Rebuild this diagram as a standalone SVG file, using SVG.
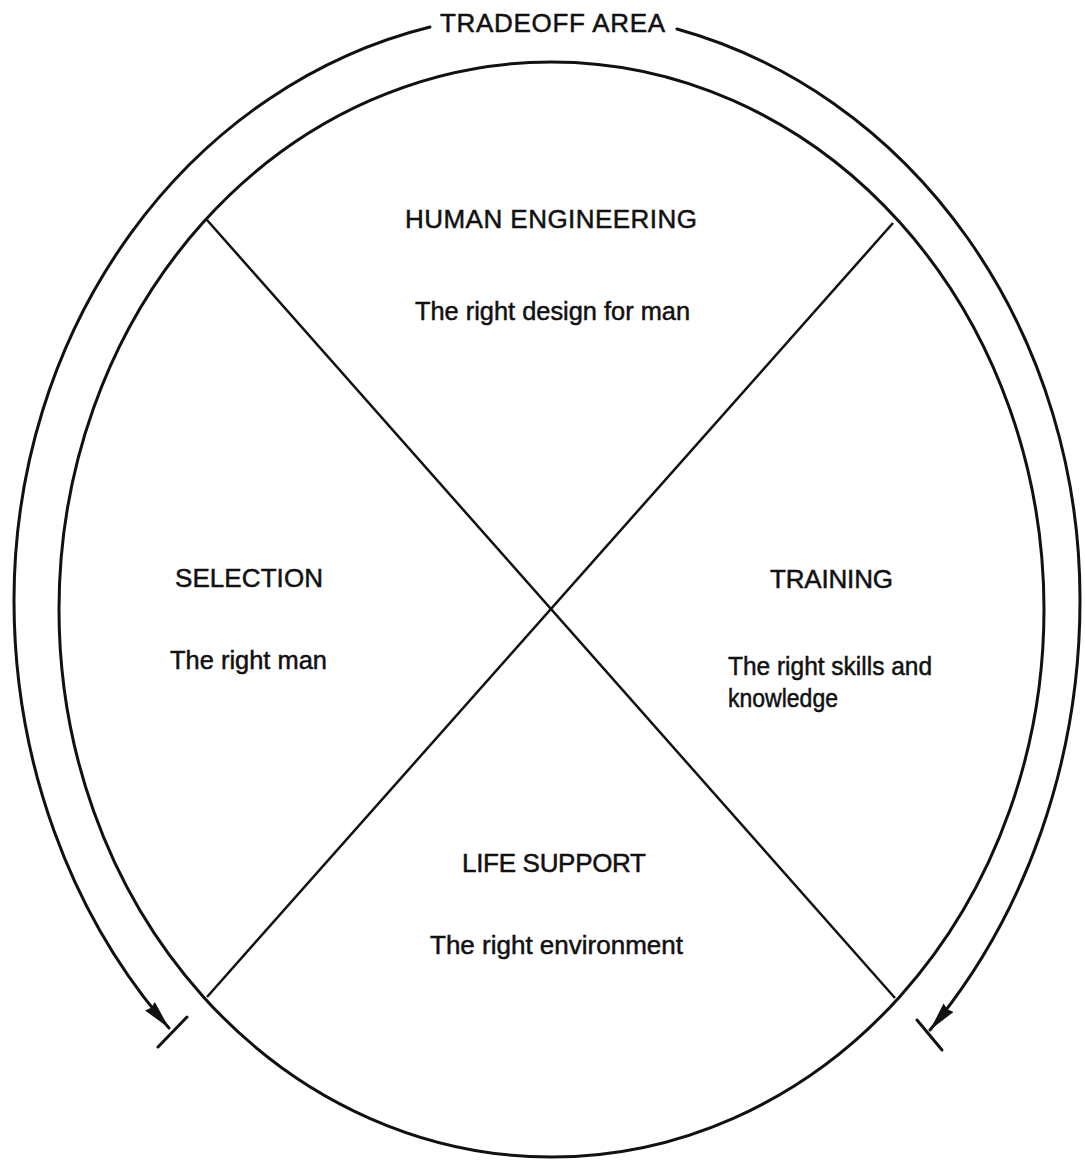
<svg xmlns="http://www.w3.org/2000/svg" width="1085" height="1160" viewBox="0 0 1085 1160">
<style>
.ln{fill:none;stroke:#111;stroke-width:3;stroke-linecap:round}
.dg{fill:none;stroke:#111;stroke-width:2.5}
.t{font-family:"Liberation Sans",Arial,sans-serif;fill:#111;stroke:#111;stroke-width:0.5;font-size:26px}
.s{font-family:"Liberation Sans",Arial,sans-serif;fill:#111;stroke:#111;stroke-width:0.5;font-size:26px}
</style>
<defs>
<marker id="arr" markerWidth="32" markerHeight="16" refX="29" refY="8" orient="auto" markerUnits="userSpaceOnUse">
<path d="M0,1.5 L29,8 L0,14.5 L2,8 z" fill="#111"/>
</marker>
</defs>
<rect width="1085" height="1160" fill="#fff"/>
<g id="frame">
<ellipse class="ln" cx="551.5" cy="609.5" rx="492.5" ry="547.5"/>
<line class="dg" x1="207" y1="220" x2="895" y2="998"/>
<line class="dg" x1="893" y1="223" x2="207" y2="997"/>
</g>
<g id="tradeoff">
<text class="t" x="440" y="32" textLength="225" lengthAdjust="spacing">TRADEOFF AREA</text>
</g>
<g id="connectors">
<path class="ln" d="M430,27 A533,588 0 0 0 14,600 A533,607 0 0 0 169,1028" marker-end="url(#arr)"/>
<path class="ln" d="M677,29 A533,588 0 0 1 1080,600 A533,618 0 0 1 930,1030" marker-end="url(#arr)"/>
<line class="ln" x1="158" y1="1047" x2="187" y2="1017"/>
<line class="ln" x1="917" y1="1020" x2="942" y2="1050"/>
</g>
<g id="human-engineering">
<text class="t" x="405" y="228" textLength="292" lengthAdjust="spacing">HUMAN ENGINEERING</text>
<text class="s" x="415" y="320" textLength="275" lengthAdjust="spacingAndGlyphs">The right design for man</text>
</g>
<g id="selection">
<text class="t" x="175" y="587" textLength="148" lengthAdjust="spacing">SELECTION</text>
<text class="s" x="170" y="669" textLength="157" lengthAdjust="spacingAndGlyphs">The right man</text>
</g>
<g id="training">
<text class="t" x="770" y="588" textLength="123" lengthAdjust="spacing">TRAINING</text>
<text class="s" x="728" y="675" textLength="204" lengthAdjust="spacingAndGlyphs">The right skills and</text>
<text class="s" x="728" y="707" textLength="110" lengthAdjust="spacingAndGlyphs">knowledge</text>
</g>
<g id="life-support">
<text class="t" x="462" y="872" textLength="184" lengthAdjust="spacing">LIFE SUPPORT</text>
<text class="s" x="430" y="954" textLength="253" lengthAdjust="spacingAndGlyphs">The right environment</text>
</g>
</svg>
